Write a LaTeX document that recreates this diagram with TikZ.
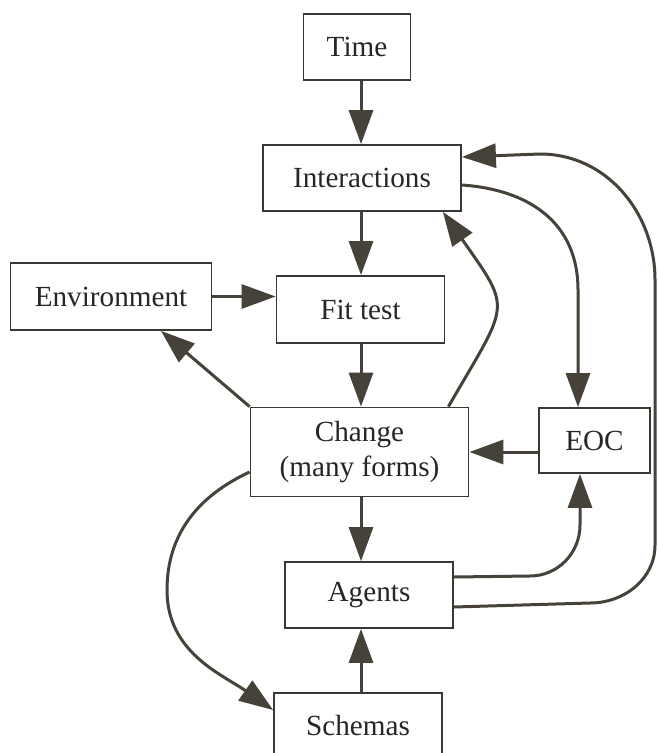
\documentclass[tikz,border=0pt]{standalone}
\usepackage{fontspec}
\setmainfont{Liberation Serif}
\usetikzlibrary{arrows.meta}
\definecolor{ink}{HTML}{46423A}
\definecolor{boxline}{HTML}{3A3834}

\begin{document}
\begin{tikzpicture}[
  x=0.5pt, y=-0.5pt,
  font=\fontsize{14.6}{17.5}\selectfont,
  box/.style={rectangle, draw=boxline, line width=0.9pt, fill=white, align=center, inner sep=2pt, text=black!85},
  flow/.style={ink, line width=1.5pt, -{Triangle[length=17pt, width=12pt]}},
]
  \clip (0,0) rectangle (657,753);
  \fill[white] (0,0) rectangle (657,753);
  \coordinate (spine) at (361,0);

  \node[box, minimum width=53.5pt, minimum height=33pt] (time) at (357,47) {Time};
  \node[box, minimum width=99pt, minimum height=33pt] (inter) at (362,178) {Interactions};
  \node[box, minimum width=100.5pt, minimum height=33.5pt] (env) at (111,296.5) {Environment};
  \node[box, minimum width=84pt, minimum height=33.5pt] (fit) at (360.5,309.5) {Fit test};
  \node[box, minimum width=109pt, minimum height=44.5pt] (change) at (359.5,452) {Change\\(many forms)};
  \node[box, minimum width=55.5pt, minimum height=32.5pt] (eoc) at (594.5,440.5) {EOC};
  \node[box, minimum width=84pt, minimum height=33pt] (agents) at (369,595) {Agents};
  \node[box, minimum width=84pt, minimum height=33pt] (schemas) at (358,726) {Schemas};

  % main column
  \foreach \a/\b in {time/inter, inter/fit, fit/change, change/agents}
    {\draw[flow] (\a.south -| spine) -- (\b.north -| spine);}
  \draw[flow] (schemas.north -| spine) -- (agents.south -| spine);
  \draw[flow] (env.east) -- (env.east -| fit.west);
  \draw[flow] (eoc.west |- change.east) -- (change.east);
  \draw[flow] (change.north west) -- ([xshift=25pt]env.south);

  % feedback loops
  \draw[flow] ([xshift=-10.5pt]change.north east) to[out=60, in=-55, looseness=1.6] ([xshift=-9.5pt]inter.south east);
  \draw[flow] ([yshift=-3.5pt]inter.east) to[out=-4, in=90, looseness=1.1] (578,290) -- ([xshift=-8.25pt]eoc.north);
  \draw[flow] ([yshift=9pt]agents.east) -- (530,576) to[out=0, in=-90] (580,525) -- ([xshift=-7.25pt]eoc.south);
  \draw[flow] ([yshift=-6pt]agents.east) -- (590,603) to[out=0, in=-90] (655,545) -- (655,280) to[out=90, in=0] (540,154) -- ([yshift=10.5pt]inter.east);
  \draw[flow] ([yshift=-10pt]change.west) to[out=205, in=90] (167,590) to[out=-90, in=145] ([yshift=8pt]schemas.west);
\end{tikzpicture}
\end{document}
